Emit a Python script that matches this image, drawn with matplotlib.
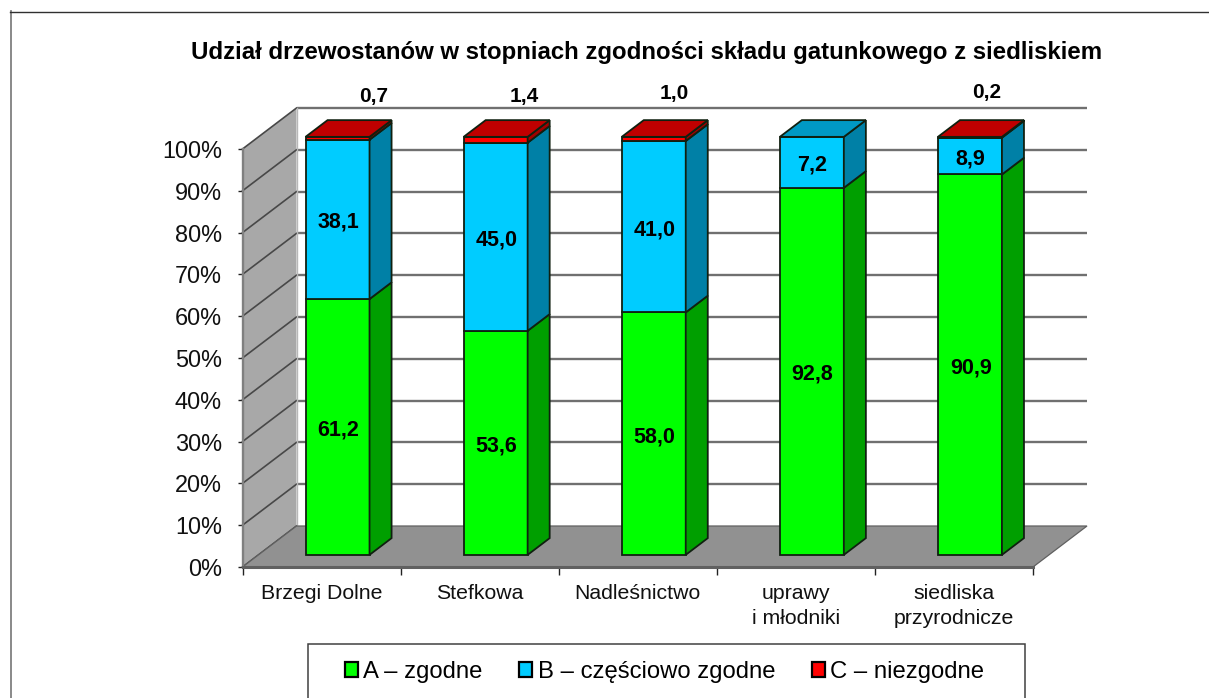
import matplotlib
matplotlib.use("Agg")
import matplotlib.pyplot as plt
from matplotlib.patches import Polygon, Patch, Rectangle
from matplotlib.lines import Line2D

plt.rcParams['font.family'] = ['Liberation Sans', 'DejaVu Sans']

# ---- data ----
categories = ["Brzegi Dolne", "Stefkowa", "Nadleśnictwo", "uprawy\ni młodniki", "siedliska\nprzyrodnicze"]
series_names = ["A – zgodne", "B – częściowo zgodne", "C – niezgodne"]
# heights as drawn in the picture
values_a = [61.2, 53.6, 58.0, 87.8, 91.0]
values_b = [38.1, 45.0, 41.0, 12.2, 8.8]
values_c = [0.7, 1.4, 1.0, 0.0, 0.2]
# labels as printed in the picture
labels_a = ["61,2", "53,6", "58,0", "92,8", "90,9"]
labels_b = ["38,1", "45,0", "41,0", "7,2", "8,9"]
labels_c = ["0,7", "1,4", "1,0", "", "0,2"]
y_ticks = [0, 10, 20, 30, 40, 50, 60, 70, 80, 90, 100]
title = "Udział drzewostanów w stopniach zgodności składu gatunkowego z siedliskiem"

# ---- layout (pixels) ----
W, H = 1209, 698
L, R, B, T = 242.5, 1033.0, 567.0, 149.0
DX, DY = 54.0, 41.0          # full depth of the chart box
BAR_PX = 64.0
D0, D1 = 0.296, 0.704        # depth range occupied by the bars
C_LABEL_OFF = [(36, 471), (29, 471), (21, 474), (0, 0), (17, 475)]  # px offset x, px y of the top labels

fig = plt.figure(figsize=(W / 100, H / 100), dpi=100, facecolor='white')
ax = fig.add_axes([L / W, 1 - B / H, (R - L) / W, (B - T) / H])
ax.set_xlim(0, len(categories))
ax.set_ylim(0, 100)
ax.patch.set_visible(False)
for s in ax.spines.values():
    s.set_visible(False)

sx = len(categories) / (R - L)
sy = 100.0 / (B - T)


def proj(x, y, d):
    return (x + d * DX * sx, y + d * DY * sy)


def poly(points, **kw):
    p = Polygon([proj(*q) for q in points], closed=True, clip_on=False, **kw)
    ax.add_patch(p)
    return p


n = len(categories)
GRID = '#707070'
# walls and floor
poly([(0, 0, 0), (0, 100, 0), (0, 100, 1), (0, 0, 1)], facecolor='#a8a8a8', edgecolor='none', zorder=1)
poly([(0, 0, 0), (n, 0, 0), (n, 0, 1), (0, 0, 1)], facecolor='#919191', edgecolor='#606060', linewidth=0.9, zorder=2)

# grid on side and back wall
for v in y_ticks:
    x0, y0 = proj(0, v, 0)
    x1, y1 = proj(0, v, 1)
    x2, y2 = proj(n, v, 1)
    if v > 0:
        ax.plot([x1, x2], [y1, y2], color=GRID, lw=1.7, clip_on=False, zorder=1.5, solid_capstyle='butt')
    ax.plot([x0, x1], [y0, y1], color='#484848', lw=1.2, clip_on=False, zorder=1.6)
# vertical edges and axis lines
xa, ya = proj(0, 0, 1)
xb, yb = proj(0, 100, 1)
ax.plot([xa, xb], [ya, yb], color='#b8b8b8', lw=1.0, clip_on=False, zorder=1.7)
ax.plot([0, 0], [0, 100], color='#808080', lw=1.7, clip_on=False, zorder=3)
ax.plot([0, n], [0, 0], color='#606060', lw=2.2, clip_on=False, zorder=3)

ax.set_yticks(y_ticks)
ax.set_yticklabels([f"{v}%" for v in y_ticks], fontsize=16.9, color='#111111')
ax.tick_params(axis='y', length=3.8, width=1, color='#222222', pad=11)
ax.set_xticks(range(n + 1))
ax.set_xticklabels([])
ax.set_xticks([i + 0.5 for i in range(n)], minor=True)
ax.set_xticklabels(categories, minor=True, fontsize=15.3, linespacing=1.4, color='#111111')
ax.tick_params(axis='x', which='major', length=5.5, width=1, color='#222222')
ax.tick_params(axis='x', which='minor', length=0, pad=12)

# stacked 3-D bars
colors = [
    dict(front='#00FF00', side='#009F00', top='#00C000'),
    dict(front='#00CCFF', side='#0080A6', top='#0099C4'),
    dict(front='#FF0000', side='#A00000', top='#C00000'),
]
w = BAR_PX * sx
EDGE = '#102010'
LW = 1.3
for i in range(n):
    stack = [values_a[i], values_b[i], values_c[i]]
    xc = i + 0.5
    x0, x1 = xc - w / 2, xc + w / 2
    bottom = 0.0
    top_color = None
    for s, h in enumerate(stack):
        if h <= 0:
            continue
        c = colors[s]
        px, py = proj(xc, bottom, D0)
        ax.bar(px, h, w, bottom=py, color=c['front'], edgecolor=EDGE, linewidth=LW, zorder=5 + s * 0.1, clip_on=False)
        poly([(x1, bottom, D0), (x1, bottom + h, D0), (x1, bottom + h, D1), (x1, bottom, D1)],
             facecolor=c['side'], edgecolor=EDGE, linewidth=LW, zorder=5 + s * 0.1)
        bottom += h
        top_color = c['top']
    poly([(x0, bottom, D0), (x1, bottom, D0), (x1, bottom, D1), (x0, bottom, D1)],
         facecolor=top_color, edgecolor=EDGE, linewidth=LW, zorder=6)

    # value labels
    tx, ty = proj(xc, values_a[i] / 2, D0)
    ax.annotate(labels_a[i], (tx, ty), xytext=(0.5, -2.2), textcoords='offset points', ha='center', va='center',
                fontsize=15.5, fontweight='bold', color='black', zorder=8, annotation_clip=False)
    tx, ty = proj(xc, values_a[i] + values_b[i] / 2, D0)
    ax.annotate(labels_b[i], (tx, ty), xytext=(0.5, -2.2), textcoords='offset points', ha='center', va='center',
                fontsize=15.5, fontweight='bold', color='black', zorder=8, annotation_clip=False)
    if labels_c[i]:
        off_x, off_y = C_LABEL_OFF[i]
        tx, ty = proj(xc, 100, D0)
        ax.annotate(labels_c[i], (tx, ty), xytext=(off_x * 0.72, (off_y - 431) * 0.72), textcoords='offset points',
                    ha='center', va='center', fontsize=15.0, fontweight='bold', color='black',
                    annotation_clip=False, zorder=8)

# outer frame (runs past the bottom and right of the picture)
fig.add_artist(Line2D([10.5 / W, 10.5 / W], [0, 1 - 11 / H], color='#808080', lw=1.3))
fig.add_artist(Line2D([10 / W, 1], [1 - 11.5 / H, 1 - 11.5 / H], color='#303030', lw=1.0))

fig.text(646.5 / W, 1 - 52 / H, title, ha='center', va='center', fontsize=17.28, fontweight='bold', color='black')

# legend box (runs past the bottom of the picture)
fig.add_artist(Rectangle((307.5 / W, -0.02), (1025 - 307.5) / W, 1 - 643.5 / H + 0.02, transform=fig.transFigure,
                         facecolor='white', edgecolor='#404040', linewidth=1.1, zorder=2))
handles = [Patch(facecolor=c['front'], edgecolor='black', linewidth=1.6) for c in colors]
leg = fig.legend(handles, series_names, ncol=3, loc='center left', bbox_to_anchor=(345 / W, 1 - 672 / H),
                 frameon=False, fontsize=17.2, borderpad=0, borderaxespad=0, handlelength=0.55, handleheight=0.55,
                 handletextpad=0.22, columnspacing=1.53)
leg.set_zorder(3)

fig.savefig('out.png', dpi=100, facecolor='white')
